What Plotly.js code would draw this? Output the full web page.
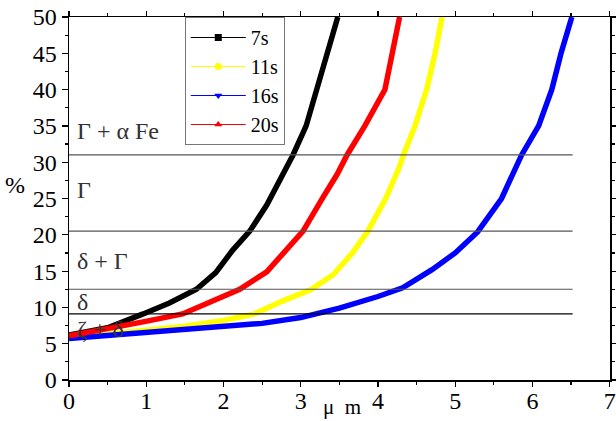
<!DOCTYPE html>
<html>
<head>
<meta charset="utf-8">
<script src="https://cdn.plot.ly/plotly-3.0.1.min.js"></script>
<style>html,body{margin:0;padding:0;background:#fff}#chart{width:616px;height:421px}</style>
</head>
<body>
<div id="chart"></div>
<script>
// Series: depth (µm) vs %
const x7s  = [0, 0.5, 0.96, 1.3, 1.65, 1.9, 2.12, 2.34, 2.56, 2.73, 2.9, 3.07, 3.21, 3.35, 3.48];
const y7s  = [6.2, 7.2, 9.1, 10.6, 12.5, 14.8, 17.9, 20.5, 24.1, 27.6, 31.0, 35.0, 40.0, 45.0, 50.0];

const x11s = [0, 0.5, 1.0, 1.5, 2.0, 2.4, 2.77, 3.14, 3.42, 3.67, 3.87, 4.11, 4.28, 4.33, 4.48, 4.63, 4.74, 4.83];
const y11s = [5.8, 6.3, 6.8, 7.4, 8.2, 9.1, 10.9, 12.5, 14.5, 17.5, 20.5, 25.2, 29.4, 31.0, 35.0, 40.0, 45.0, 50.0];

const x16s = [0, 0.5, 1.0, 1.5, 2.0, 2.5, 3.0, 3.5, 4.0, 4.32, 4.7, 5.0, 5.29, 5.5, 5.6, 5.86, 6.08, 6.25, 6.37, 6.51];
const y16s = [5.7, 6.1, 6.5, 6.9, 7.3, 7.8, 8.6, 9.9, 11.5, 12.7, 15.2, 17.5, 20.4, 23.4, 25.0, 31.0, 35.0, 40.0, 45.0, 50.0];

const x20s = [0, 0.5, 0.96, 1.47, 1.7, 2.21, 2.56, 3.03, 3.29, 3.47, 3.6, 3.83, 4.09, 4.19, 4.28];
const y20s = [6.1, 7.0, 8.0, 9.1, 10.1, 12.5, 14.9, 20.5, 25.2, 28.3, 31.0, 35.0, 40.0, 45.0, 50.0];

const seriesNames = ['7s', '11s', '16s', '20s'];
const seriesColors = ['#000000', '#ffff00', '#0000ff', '#ff0000'];
const seriesSymbols = ['square', 'circle', 'triangle-down', 'triangle-up'];

// Phase boundaries (%) and labels
const boundaries = [31.0, 20.5, 12.5, 9.1];
const boundaryEnd = 6.52;
const phaseLabels = ['Γ + α Fe', 'Γ', 'δ + Γ', 'δ', 'ζ + δ'];
const phaseLabelY = [34.3, 26.2, 16.4, 10.8, 7.0];

const xs = [x7s, x11s, x16s, x20s];
const ys = [y7s, y11s, y16s, y20s];
const drawOrder = [1, 2, 0, 3];

const FONT = '"Liberation Serif", "Times New Roman", Times, serif';
const traces = [];
drawOrder.forEach(i => {
  traces.push({
    x: xs[i], y: ys[i], type: 'scatter', mode: 'lines',
    line: {color: seriesColors[i], width: 5.5},
    showlegend: false, hoverinfo: 'skip'
  });
});
[0, 1, 2, 3].forEach(i => {
  traces.push({
    x: [null], y: [null], type: 'scatter', mode: 'lines+markers', name: seriesNames[i],
    line: {color: seriesColors[i], width: 1},
    marker: {color: seriesColors[i], symbol: seriesSymbols[i], size: 7},
    showlegend: true
  });
});

const shapes = boundaries.map((b, k) => ({
  type: 'line', xref: 'x', yref: 'y', x0: 0, x1: boundaryEnd, y0: b, y1: b,
  line: {color: k === 3 ? '#000' : '#555', width: 1.2}
}));

const annotations = phaseLabels.map((t, k) => ({
  x: 0.08, y: phaseLabelY[k], xref: 'x', yref: 'y', text: t, showarrow: false,
  xanchor: 'left', yanchor: 'middle', font: {family: FONT, size: 24, color: '#333'}
}));
annotations.push({
  x: -0.1, y: 0.537, xref: 'paper', yref: 'paper', text: '%', showarrow: false,
  xanchor: 'center', yanchor: 'middle', font: {family: FONT, size: 24, color: '#000'}
});
annotations.push({
  x: 0.505, y: -0.035, xref: 'paper', yref: 'paper', text: 'μ  m', showarrow: false,
  xanchor: 'center', yanchor: 'top', font: {family: FONT, size: 21, color: '#000'}
});

const layout = {
  width: 616, height: 421,
  margin: {l: 69, r: 6, t: 17, b: 41},
  paper_bgcolor: '#fff', plot_bgcolor: '#fff',
  font: {family: FONT, color: '#000', size: 20},
  showlegend: true,
  legend: {
    x: 0.214, y: 1, xanchor: 'left', yanchor: 'top',
    bgcolor: '#fff', bordercolor: '#777', borderwidth: 1,
    font: {family: FONT, size: 20, color: '#000'},
    itemwidth: 55, tracegroupgap: 0
  },
  xaxis: {
    range: [0, 7.004], dtick: 1, tick0: 0, showgrid: false, zeroline: false,
    showline: true, linecolor: '#000', linewidth: 1.5, mirror: 'allticks',
    ticks: 'outside', ticklen: 5, tickcolor: '#000', tickwidth: 1.2,
    ticklabeloverflow: 'allow', ticklabelstandoff: -6,
    minor: {dtick: 0.5, ticks: 'outside', ticklen: 3, tickcolor: '#000', showgrid: false},
    tickfont: {family: FONT, size: 24, color: '#000'}
  },
  yaxis: {
    range: [0, 50], dtick: 5, tick0: 0, showgrid: false, zeroline: false,
    showline: true, linecolor: '#000', linewidth: 1.5, mirror: 'allticks',
    ticks: 'outside', ticklen: 6, tickcolor: '#000', tickwidth: 1.2,
    ticklabeloverflow: 'allow',
    minor: {dtick: 2.5, ticks: 'outside', ticklen: 3, tickcolor: '#000', showgrid: false},
    tickfont: {family: FONT, size: 24, color: '#000'}
  },
  shapes: shapes,
  annotations: annotations
};

Plotly.newPlot('chart', traces, layout, {displayModeBar: false, staticPlot: true});
</script>
</body>
</html>
